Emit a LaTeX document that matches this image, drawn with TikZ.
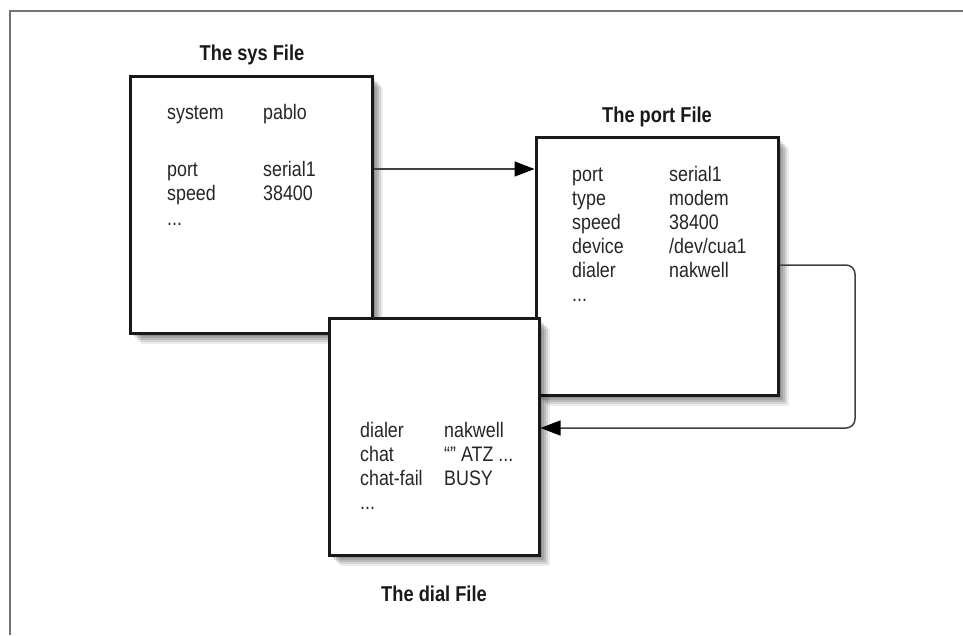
\documentclass[tikz,border=0pt]{standalone}
\usepackage{fontspec}
\setmainfont{Liberation Sans}
\newfontfamily\condfont[FakeStretch=0.85]{Liberation Sans}
\usetikzlibrary{shadows,arrows.meta}
\begin{document}
\begin{tikzpicture}[x=1pt,y=-1pt,
  softshadow/.style={
    general shadow={fill=black, opacity=0.12, shadow xshift=3pt, shadow yshift=-3pt},
    general shadow={fill=black, opacity=0.12, shadow xshift=5pt, shadow yshift=-5pt},
    general shadow={fill=black, opacity=0.12, shadow xshift=7pt, shadow yshift=-7pt},
    general shadow={fill=black, opacity=0.10, shadow xshift=9pt, shadow yshift=-9pt},
    general shadow={fill=black, opacity=0.07, shadow xshift=11pt, shadow yshift=-11pt}},
  filebox/.style={draw=black!90, line width=3pt, fill=white, inner sep=0pt, softshadow},
  ftext/.style={anchor=base west, inner sep=0pt, text=black!85, font=\condfont\fontsize{21}{23}\selectfont},
  ftitle/.style={anchor=base, inner sep=0pt, text=black!90, font=\condfont\fontsize{21.5}{23}\selectfont\bfseries},
  conn/.style={draw=black!75, line width=1.5pt},
  tip/.style={-{Triangle[length=20pt,width=15pt,color=black,fill=black]}}
]
\useasboundingbox (0,0) rectangle (963,635);
\draw[black!55, line width=2pt] (9.5,635) -- (9.5,10.5) -- (963,10.5);

% sys file
\node[filebox, minimum width=242pt, minimum height=257pt] (sys) at (251,204.5) {};
\node[ftitle] (systitle) at (252,60) {The sys File};
\node[ftext] (s1a) at (167,119) {system};
\node[ftext] (s1b) at (263,119) {pablo};
\node[ftext] (s2a) at (167,176) {port};
\node[ftext] (s2b) at (263,176) {serial1};
\node[ftext] (s3a) at (167,200) {speed};
\node[ftext] (s3b) at (263,200) {38400};
\node[ftext] (s4a) at (167,225) {...};

% port file
\node[filebox, minimum width=242pt, minimum height=258pt] (port) at (657,266) {};
\node[ftitle] (porttitle) at (657,122) {The port File};
\node[ftext] (p1a) at (572,181) {port};
\node[ftext] (p1b) at (669,181) {serial1};
\node[ftext] (p2a) at (572,205) {type};
\node[ftext] (p2b) at (669,205) {modem};
\node[ftext] (p3a) at (572,229) {speed};
\node[ftext] (p3b) at (669,229) {38400};
\node[ftext] (p4a) at (572,253) {device};
\node[ftext] (p4b) at (669,253) {/dev/cua1};
\node[ftext] (p5a) at (572,277) {dialer};
\node[ftext] (p5b) at (669,277) {nakwell};
\node[ftext] (p6a) at (572,301) {...};

% connector helper coordinates
\coordinate (y1) at (0,169);
\coordinate (y2) at (0,265);
\coordinate (y3) at (0,428);
\coordinate (bendx) at (855,0);

% dial file
\node[filebox, minimum width=210pt, minimum height=237pt] (dial) at (434,436.5) {};
\node[ftitle] (dialtitle) at (434,601) {The dial File};
\node[ftext] (d1a) at (360,437) {dialer};
\node[ftext] (d1b) at (444,437) {nakwell};
\node[ftext] (d2a) at (360,461) {chat};
\node[ftext] (d2b) at (444,461) {“” ATZ ...};
\node[ftext] (d3a) at (360,485) {chat-fail};
\node[ftext] (d3b) at (444,485) {BUSY};
\node[ftext] (d4a) at (360,509) {...};

\draw[conn, tip] (sys.east |- y1) -- (port.west |- y1);
\draw[conn, tip, rounded corners=9pt] (port.east |- y2) -- (bendx |- y2) -- (bendx |- y3) -- (dial.east |- y3);
\end{tikzpicture}
\end{document}
